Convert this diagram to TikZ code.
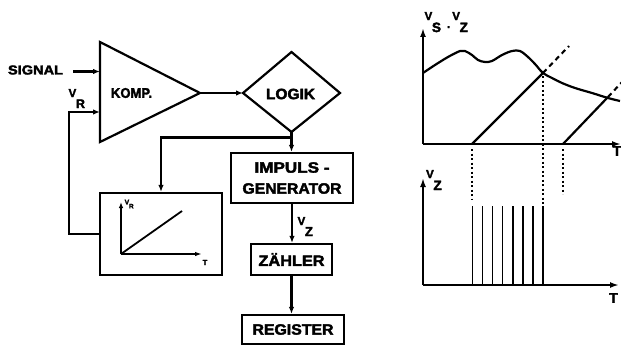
\documentclass[tikz,border=0pt]{standalone}
\usepackage{fontspec}
\usepackage{graphicx}
\setmainfont{Liberation Sans}[BoldFeatures={FakeBold=2.5}]
\usetikzlibrary{arrows.meta}
\newcommand{\fitw}[2]{\resizebox{#1}{\height}{#2}}
\newcommand{\VV}[4]{{\fontsize{#1}{#1}\selectfont V}\kern-0.3pt\raisebox{#3}{\fontsize{#2}{#2}\selectfont #4}}
\begin{document}
\begin{tikzpicture}[x=1pt,y=-1pt,line width=2.2pt,
  lbl/.style={inner sep=0pt,font=\bfseries},
  arr/.style={-{Latex[length=7pt,width=5.5pt]}},
  axarr/.style={-{Latex[length=9pt,width=6pt]}},
  box/.style={draw,rectangle,inner sep=0pt,font=\bfseries\fontsize{15}{21}\selectfont,align=center},
  dots/.style={line width=1.9pt,dash pattern=on 2pt off 2.5pt},
  dsh/.style={line width=2.1pt,dash pattern=on 5pt off 4pt}]
\useasboundingbox (0,0) rectangle (621,345);

% comparator triangle
\coordinate (kt) at (100,42);
\coordinate (kb) at (100,142);
\coordinate (ktip) at (200,93);
\draw[line join=miter] (kt) -- (ktip) -- (kb) -- cycle;
\node[lbl,font=\bfseries\fontsize{14}{14}\selectfont] (komp) at (131.5,93) {\fitw{41pt}{KOMP.}};
\coordinate (kin1) at (100,71.5);
\coordinate (kin2) at (100,112);

% signal
\node[lbl,font=\bfseries\fontsize{13}{13}\selectfont] (signal) at (35.5,70) {\fitw{55pt}{SIGNAL}};
\coordinate (sigs) at (73,71.5);
\draw[arr] (sigs) -- (kin1);
\node[lbl,anchor=north west] (vr) at (67.5,88) {\bfseries\VV{11.5}{12.5}{-11pt}{R}};

% logic diamond
\coordinate (ll) at (243,93);
\coordinate (lt) at (291.5,52);
\coordinate (lr) at (340,93);
\coordinate (lb) at (291.5,132);
\draw[line join=miter] (ll) -- (lt) -- (lr) -- (lb) -- cycle;
\node[lbl,font=\bfseries\fontsize{15}{15}\selectfont] (logik) at (290.5,94) {\fitw{49pt}{LOGIK}};
\draw[arr] (ktip) -- (ll);

% boxes
\node[box,minimum width=122pt,minimum height=50pt] (imp) at (292,178)
  {\fitw{75pt}{IMPULS -}\\\fitw{99pt}{GENERATOR}};
\node[box,minimum width=81pt,minimum height=31pt] (zae) at (291.5,259.5) {\fitw{66pt}{ZÄHLER}};
\node[box,minimum width=102pt,minimum height=29pt] (reg) at (293,329.5) {\fitw{81pt}{REGISTER}};
\node[draw,rectangle,inner sep=0pt,minimum width=122pt,minimum height=82pt] (gbox) at (161,234) {};

% connectors
\draw[arr] (lb) -- (lb |- imp.north);
\coordinate (br) at (291.5,137.5);
\draw[arr] (br) -| (gbox.north);
\draw[arr] (gbox.west) -- ++(-30pt,0) |- (kin2);
\draw[arr] (imp.south) -- (imp.south |- zae.north);
\node[lbl,anchor=north west] (vz) at (296.5,216) {\bfseries\VV{11.5}{13}{-11pt}{Z}};
\draw[arr] (zae.south) -- (zae.south |- reg.north);

% small graph inside box
\coordinate (go) at (121,254);
\draw[line width=1.8pt,-{Latex[length=6pt,width=4.5pt]}] (go) -- (121,202);
\draw[line width=1.8pt,-{Latex[length=7pt,width=4.5pt]}] (go) -- (202,254);
\draw[line width=1.8pt] (go) -- (182,211);
\node[lbl,anchor=north west] (gvr) at (123.5,198.5) {\bfseries\VV{7}{6.5}{-4pt}{R}};
\node[lbl] (gt) at (205,262.5) {\bfseries\fontsize{7.5}{7.5}\selectfont T};

% right upper graph
\coordinate (uo) at (423,144);
\draw[axarr] (uo) -- (423,28);
\draw[axarr] (uo) -- (621,144);
\node[lbl,anchor=north west] (vsvz) at (423.5,11) {\bfseries\VV{11.5}{13.5}{-12pt}{S}\hspace{6pt}\raisebox{-8pt}{\fontsize{12}{12}\selectfont .}\hspace{2pt}\VV{11.5}{13.5}{-12pt}{Z}};
\node[lbl,font=\bfseries\fontsize{14}{14}\selectfont] (tu) at (617,151) {T};
\draw plot[smooth,tension=0.55] coordinates {
 (423,73) (435,65) (448,57) (460,51) (465,51) (472,55) (478,60) (485,62)
 (492,61) (502,55) (512,51) (520,51) (528,57) (535,64) (543,73) (552,78)
 (562,83) (575,88) (592,93) (608,98) (620,101)};
\draw (472,144) -- (543,73);
\draw[dsh] (543,73) -- (569,46);
\draw (563,144) -- (608,97);
\draw[dsh] (608,97) -- (623,81);
\draw[dots] (472,149) -- (472,200);
\draw[dots] (543,76) -- (543,204);
\draw[dots] (563,149) -- (563,194);

% right lower graph
\coordinate (lo) at (423,285);
\draw[axarr] (lo) -- (423,178);
\draw[axarr] (lo) -- (619,285);
\node[lbl,anchor=north west] (vz2) at (425,169) {\bfseries\VV{11.5}{13.5}{-12pt}{Z}};
\node[lbl,font=\bfseries\fontsize{14}{14}\selectfont] (tl) at (613.5,298) {T};
\foreach \i in {0,...,7} {
  \draw[line width=1.8pt] ({472.5+\i*10.03},206) -- ({472.5+\i*10.03},285);
}
\end{tikzpicture}
\end{document}
